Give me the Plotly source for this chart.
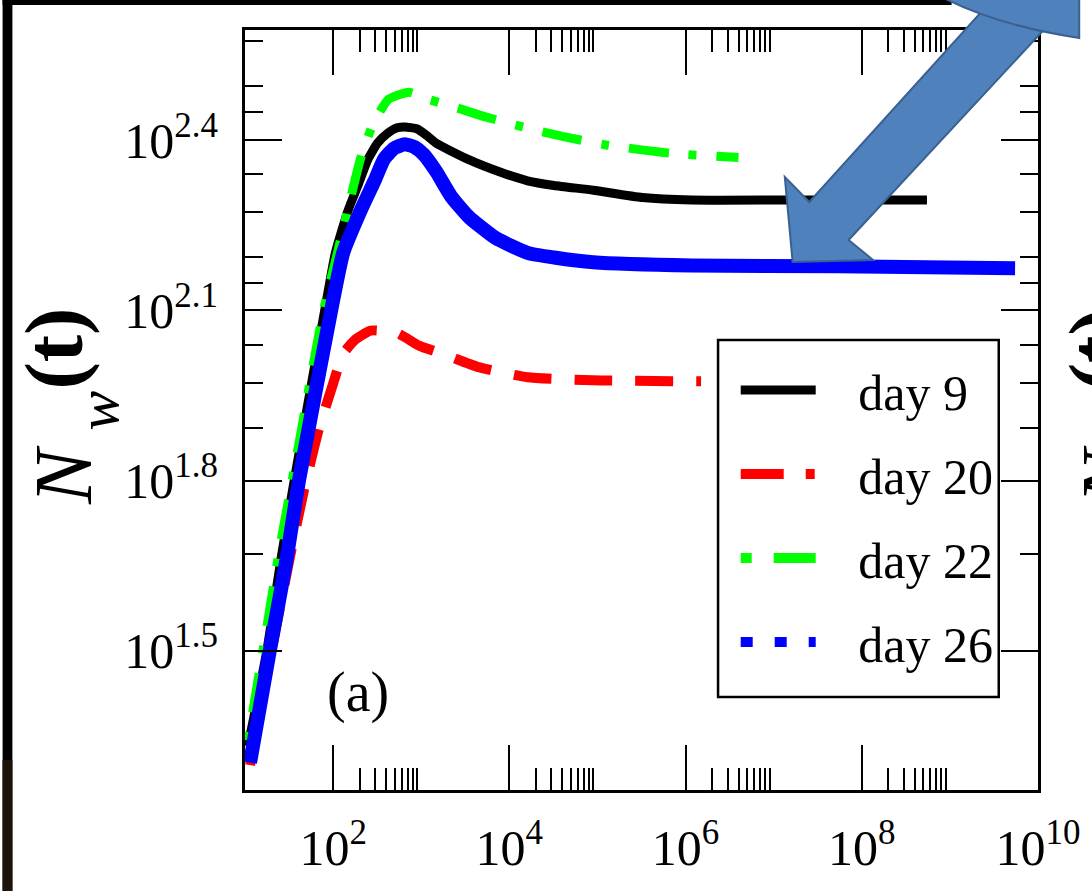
import plotly.graph_objects as go

# ---------------- data ----------------
t_day9 = [10.8, 17.6, 25.8, 36.1, 84, 106, 148, 191, 247, 318, 412, 532, 653, 889, 1150,
          1480, 3460, 8280, 16100, 32200, 89700, 3.24e5, 1.17e6, 1.5e7, 5.5e8]
n_day9 = [21.5, 31.5, 46.3, 63.1, 131, 159, 189, 209, 232, 248, 258, 264, 265, 263, 256,
          248, 232, 220, 213, 209, 205, 199, 197, 197, 197]

t_day20 = [11.4, 19.0, 31.7, 46.6, 68.4, 100, 130, 181, 266, 532, 960, 1920, 4470,
           16100, 89700, 1.5e6]
n_day20 = [19.9, 30.4, 45.6, 60.7, 77.5, 93.6, 105.6, 112, 116, 114.8, 109, 105, 100,
           96, 94.8, 94.4]

t_day22 = [10.8, 16.7, 24.5, 36, 77.8, 114, 206, 281, 420, 724, 1240, 2600, 5350,
           14200, 40000, 1.32e5, 6.98e5, 3.99e6]
n_day22 = [22, 33, 47.5, 65.8, 126, 161, 234, 267, 296, 305, 296, 286, 276,
           265, 255, 246, 238, 234]

t_day26 = [11.4, 19.0, 29.4, 40.9, 95.5, 130, 206, 295, 381, 493, 653, 845, 1064, 1480,
           2180, 3460, 6920, 16100, 32200, 89700, 1.17e6, 5.46e7, 5.5e9]
n_day26 = [20.1, 31.5, 45.6, 63.1, 126.5, 159, 189, 213, 233, 243, 247, 244, 237, 221,
           200, 184, 169, 159, 156, 153, 151, 150.6, 149.4]

series_names = ["day 9", "day 20", "day 22", "day 26"]

x_tickvals = [1e2, 1e4, 1e6, 1e8, 1e10]
x_ticktext = ["10<sup>2</sup>", "10<sup>4</sup>", "10<sup>6</sup>", "10<sup>8</sup>", "10<sup>10</sup>"]
x_minor = [k * 10 ** d for d in (2, 4, 6, 8) for k in range(2, 10)]

y_tickvals = [10 ** 1.5, 10 ** 1.8, 10 ** 2.1, 10 ** 2.4]
y_ticktext = ["10<sup>1.5</sup>", "10<sup>1.8</sup>", "10<sup>2.1</sup>", "10<sup>2.4</sup>"]
y_minor = [46.875, 78.125, 93.75, 109.375, 140.625, 156.25, 187.5, 218.75, 281.25, 312.5, 375]

# ---------------- layout geometry ----------------
W, H = 1092, 891
L, R, T, B = 245, 39, 30, 101
PW, PH = W - L - R, H - T - B


def px(x):
    return (x - L) / PW


def py(y):
    return 1 - (y - T) / PH


FONT = "Liberation Serif"
GAP = "\u00a0\u00a0\u00a0"
SPL = dict(shape="spline", smoothing=0.5)

fig = go.Figure()
# plotted curves
fig.add_trace(go.Scatter(x=t_day9, y=n_day9, mode="lines", name=GAP + series_names[0],
                         legendgroup="a", line=dict(color="black", width=9, **SPL)))
fig.add_trace(go.Scatter(x=t_day20, y=n_day20, mode="lines", name=GAP + series_names[1],
                         legendgroup="b", showlegend=False,
                         line=dict(color="#ff0000", width=10, dash="38px,23px", **SPL)))
fig.add_trace(go.Scatter(x=t_day22, y=n_day22, mode="lines", name=GAP + series_names[2],
                         legendgroup="c", showlegend=False,
                         line=dict(color="#00ff00", width=9, dash="8px,20px,40px,20px", **SPL)))
fig.add_trace(go.Scatter(x=t_day26, y=n_day26, mode="lines", name=GAP + series_names[3],
                         legendgroup="d", showlegend=False,
                         line=dict(color="#0000ff", width=14, **SPL)))
# legend entries (same series, key line styles as in the reference legend)
fig.add_trace(go.Scatter(x=[None], y=[None], mode="lines", name=GAP + series_names[1],
                         legendgroup="b",
                         line=dict(color="#ff0000", width=12, dash="43px,22px,9px,22px")))
fig.add_trace(go.Scatter(x=[None], y=[None], mode="lines", name=GAP + series_names[2],
                         legendgroup="c",
                         line=dict(color="#00ff00", width=12, dash="11px,22px,42px,22px")))
fig.add_trace(go.Scatter(x=[None], y=[None], mode="lines", name=GAP + series_names[3],
                         legendgroup="d",
                         line=dict(color="#0000ff", width=13, dash="12px,22px")))

axis_common = dict(showline=True, linecolor="black", linewidth=3, mirror="ticks",
                   ticks="inside", tickwidth=2, tickcolor="black", showgrid=False,
                   zeroline=False, ticklabeloverflow="allow",
                   tickfont=dict(family=FONT, size=50, color="black"))

fig.update_xaxes(type="log", range=[0.9995, 10.0005], tickmode="array", tickvals=x_tickvals,
                 ticktext=x_ticktext, ticklen=45, ticklabelstandoff=12,
                 minor=dict(tickmode="array", tickvals=x_minor, ticks="inside", ticklen=22,
                            tickwidth=2, tickcolor="black", showgrid=False),
                 **axis_common)
fig.update_yaxes(type="log", range=[1.255, 2.594], tickmode="array", tickvals=y_tickvals,
                 ticktext=y_ticktext, ticklen=37, ticklabelstandoff=14,
                 minor=dict(tickmode="array", tickvals=y_minor, ticks="inside", ticklen=18,
                            tickwidth=2, tickcolor="black", showgrid=False),
                 **axis_common)


# decorative slide elements (dark frame strips, blue arrow)
def path(points):
    return "M " + " L ".join(f"{px(x):.5f},{py(y):.5f}" for x, y in points) + " Z"


arrow = [(1009, -3), (820, 202), (795, 177), (803, 262), (885, 260), (860, 240), (1090, -3)]
blob = ("M {:.5f},{:.5f} Q {:.5f},{:.5f} {:.5f},{:.5f} L {:.5f},{:.5f} L {:.5f},{:.5f} Z"
        .format(px(955), py(-3), px(1010), py(25), px(1095), py(38), px(1095), py(-3),
                px(955), py(-3)))

shapes = [
    # legend frame
    dict(type="rect", xref="paper", yref="paper", x0=px(727), x1=px(1013), y0=py(697), y1=py(340),
         fillcolor="white", line=dict(color="black", width=2.5), layer="above"),
    dict(type="rect", xref="paper", yref="paper", x0=px(-2), x1=px(8), y0=py(-2), y1=py(893),
         fillcolor="black", line=dict(width=0), layer="above"),
    dict(type="rect", xref="paper", yref="paper", x0=px(-2), x1=px(8), y0=py(760), y1=py(893),
         fillcolor="#1c140a", line=dict(width=0), layer="above"),
    dict(type="rect", xref="paper", yref="paper", x0=px(-2), x1=px(965), y0=py(-2), y1=py(5),
         fillcolor="black", line=dict(width=0), layer="above"),
    dict(type="path", xref="paper", yref="paper", path=path(arrow),
         fillcolor="#4f81bd", line=dict(color="#3a6090", width=2), layer="above"),
    dict(type="path", xref="paper", yref="paper", path=blob,
         fillcolor="#4f81bd", line=dict(color="#3a6090", width=2), layer="above"),
]


def rot_text(text, xc, yc, size, xanchor="center"):
    return dict(text=text, xref="paper", yref="paper", x=px(xc), y=py(yc), textangle=-90,
                showarrow=False, xanchor=xanchor, yanchor="middle",
                font=dict(family=FONT, size=size, color="black"))


annotations = [
    # y-axis title of panel (a): N_w (t)
    rot_text("<i>N</i>", 59.5, 475, 82),
    rot_text("<i>w</i>", 95, 411, 60),
    rot_text("<b>(t)</b>", 50, 349, 82),
    # edge of the neighbouring panel's y title, cut by the picture border
    rot_text("<i>N</i>", 1078, 475, 82, xanchor="left"),
    rot_text("<b>(t)</b>", 1066, 349, 82, xanchor="left"),
    dict(text="(a)", xref="paper", yref="paper", x=px(360), y=py(692), showarrow=False,
         xanchor="center", yanchor="middle", font=dict(family=FONT, size=56, color="black")),
]

fig.update_layout(
    width=W, height=H, autosize=False,
    margin=dict(l=L, r=R, t=T, b=B, pad=0),
    paper_bgcolor="white", plot_bgcolor="white",
    showlegend=True,
    legend=dict(x=px(745), y=py(351), xanchor="left", yanchor="top",
                bgcolor="rgba(0,0,0,0)", borderwidth=0, itemwidth=75, tracegroupgap=16,
                font=dict(family=FONT, size=50, color="black")),
    shapes=shapes, annotations=annotations,
)

fig.write_html("out.html", config={"displayModeBar": False},
               post_script="document.body.style.margin='0';"
                           "document.body.style.overflow='hidden';")
